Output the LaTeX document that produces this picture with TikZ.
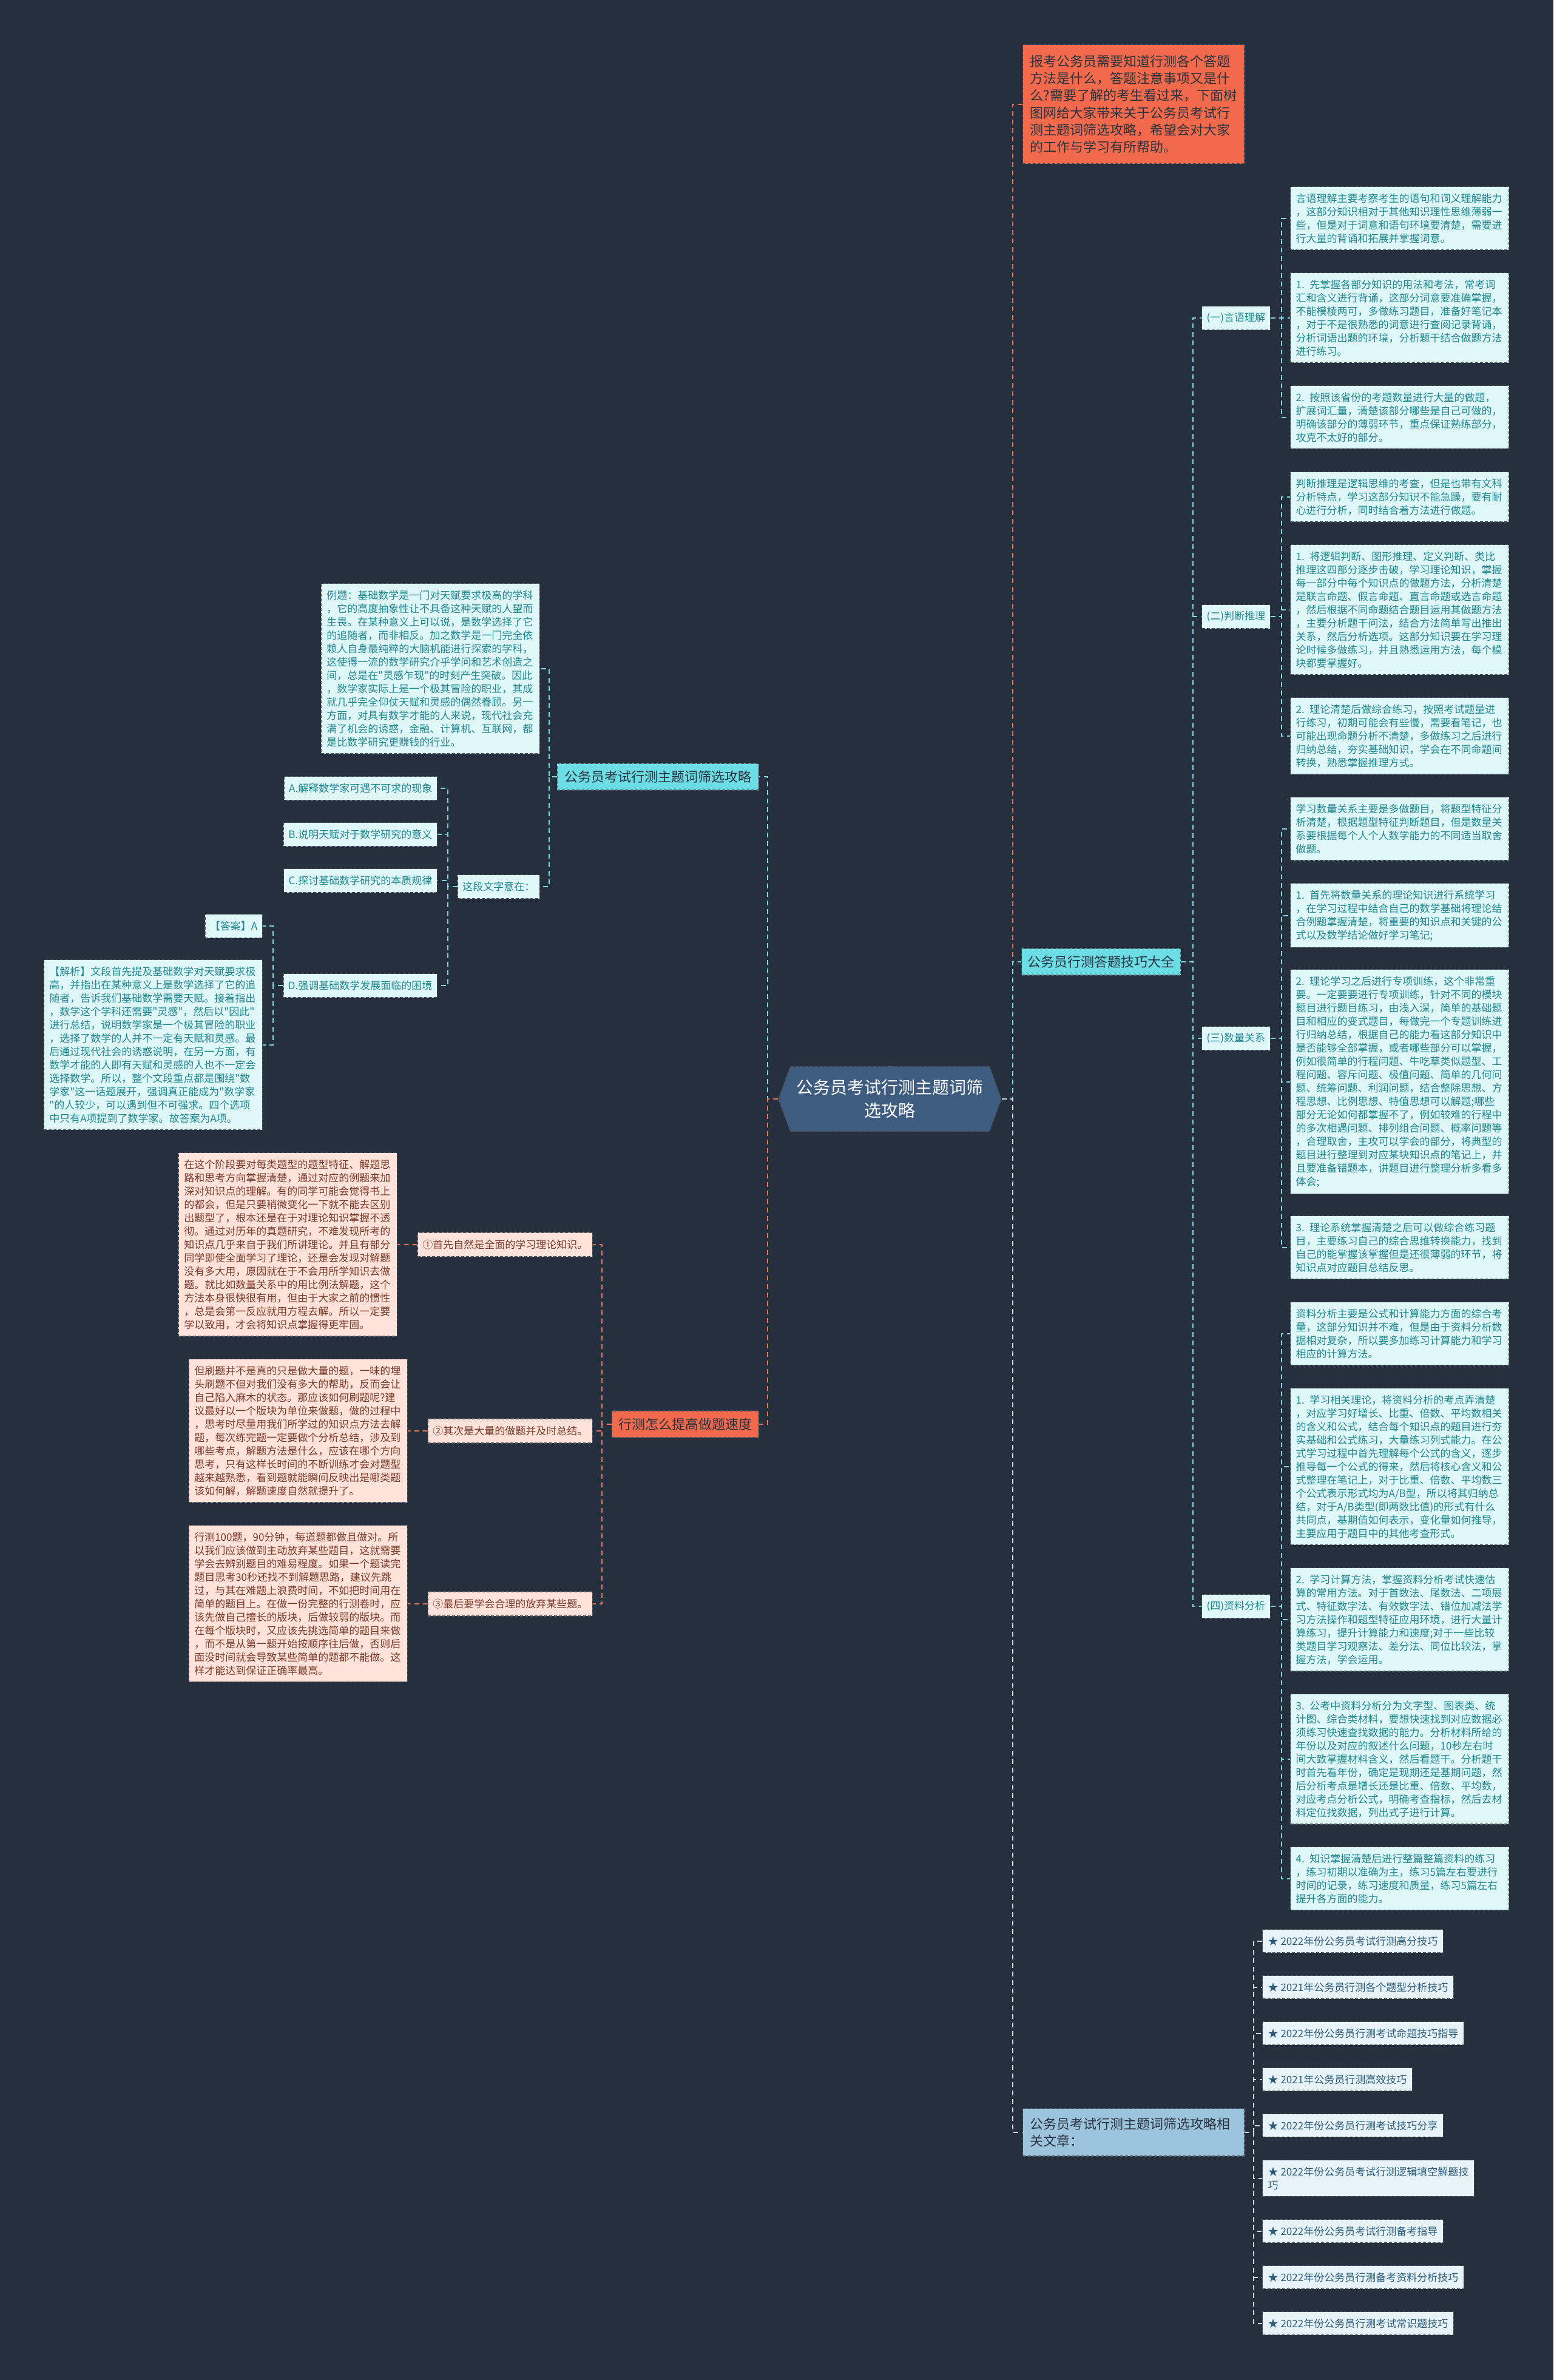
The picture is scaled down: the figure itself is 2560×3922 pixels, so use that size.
\documentclass[tikz,border=0pt]{standalone}
\usepackage{fontspec}
\setmainfont{Noto Sans CJK SC}
\newfontfamily\cjkplain{Noto Sans CJK SC}
\usetikzlibrary{shapes.symbols}
\definecolor{bgc}{HTML}{262F3D}
\definecolor{rootf}{HTML}{3E5B80}
\definecolor{orf}{HTML}{F26A4B}
\definecolor{cyf}{HTML}{6CDDE4}
\definecolor{relf}{HTML}{9DC4DD}
\definecolor{lcf}{HTML}{E0F7F8}
\definecolor{lct}{HTML}{1E8792}
\definecolor{pkf}{HTML}{FFE3DA}
\definecolor{pkt}{HTML}{7B3A29}
\definecolor{lif}{HTML}{E8F3F8}
\definecolor{lit}{HTML}{2B5C7C}
\definecolor{bord}{HTML}{4A5560}
\definecolor{midt}{HTML}{2A3440}
\definecolor{ecy}{HTML}{7ED6DE}
\definecolor{eor}{HTML}{E97355}
\definecolor{ewh}{HTML}{C9D9E5}
\newcommand\fsz[2]{\cjkplain\fontsize{#1}{#2}\selectfont}
\begin{document}
\begin{tikzpicture}[x=1pt,y=-1pt,
  every node/.style={inner sep=0pt},
  tbox/.style={draw=bord, dash pattern=on 5pt off 3pt, line width=1.4pt},
  bigc/.style={tbox, fill=lcf, text=lct, align=left, text width=342pt, inner xsep=9pt, inner ysep=11pt, font=\fsz{17}{22}},
  bigp/.style={tbox, fill=pkf, text=pkt, align=left, text width=342pt, inner xsep=9pt, inner ysep=11pt, font=\fsz{17}{22}},
  smc/.style={tbox, fill=lcf, text=lct, font=\fsz{17}{22}, inner xsep=8pt, minimum height=39pt},
  smp/.style={tbox, fill=pkf, text=pkt, font=\fsz{17}{22}, inner xsep=8pt, minimum height=40pt},
  midn/.style={tbox, font=\fsz{22}{28}, inner xsep=12pt, minimum height=44pt, text=midt},
  litem/.style={tbox, fill=lif, text=lit, font=\fsz{17}{22}, inner xsep=9pt, inner ysep=11pt, align=left},
  ecn/.style={draw=ecy, line width=2pt, dash pattern=on 8pt off 6pt},
  eon/.style={draw=eor, line width=2pt, dash pattern=on 8pt off 6pt},
  ewn/.style={draw=ewh, line width=2pt, dash pattern=on 8pt off 6pt}
]
\useasboundingbox (0,0) rectangle (2560,3922);
\fill[bgc] (0,0) rectangle (2560,3922);

% root
\node[shape=signal, signal to=east and west, signal pointer angle=140, minimum width=367pt, minimum height=107pt,
  fill=rootf, draw=bord, dash pattern=on 5pt off 3pt, line width=1.4pt, text=white, font=\fsz{28}{38}, align=center]
  (root) at (1466.5,1811) {公务员考试行测主题词筛\\选攻略};

% ---------- right side ----------
\node[tbox, fill=orf, text=midt, anchor=north west, align=left, text width=341pt, inner xsep=12pt, inner ysep=17pt, font=\fsz{22}{28.3}]
  (top) at (1685,73) {报考公务员需要知道行测各个答题\\方法是什么，答题注意事项又是什\\么?需要了解的考生看过来，下面树\\图网给大家带来关于公务员考试行\\测主题词筛选攻略，希望会对大家\\的工作与学习有所帮助。};

\node[midn, fill=cyf, anchor=west, inner xsep=10pt] (jq) at (1683,1585) {公务员行测答题技巧大全};

\node[smc, anchor=west] (s1) at (1980,524) {(一)言语理解};
\node[smc, anchor=west] (s2) at (1980,1016) {(二)判断推理};
\node[smc, anchor=west] (s3) at (1980,1711) {(三)数量关系};
\node[smc, anchor=west] (s4) at (1980,2647) {(四)资料分析};

\node[bigc, anchor=north west] (b11) at (2126,307) {言语理解主要考察考生的语句和词义理解能力\\，这部分知识相对于其他知识理性思维薄弱一\\些，但是对于词意和语句环境要清楚，需要进\\行大量的背诵和拓展并掌握词意。};
\node[bigc, anchor=north west] (b12) at (2126,449) {1. 先掌握各部分知识的用法和考法，常考词\\汇和含义进行背诵，这部分词意要准确掌握，\\不能模棱两可，多做练习题目，准备好笔记本\\，对于不是很熟悉的词意进行查阅记录背诵，\\分析词语出题的环境，分析题干结合做题方法\\进行练习。};
\node[bigc, anchor=north west] (b13) at (2126,635) {2. 按照该省份的考题数量进行大量的做题，\\扩展词汇量，清楚该部分哪些是自己可做的，\\明确该部分的薄弱环节，重点保证熟练部分，\\攻克不太好的部分。};

\node[bigc, anchor=north west] (b21) at (2126,777) {判断推理是逻辑思维的考查，但是也带有文科\\分析特点，学习这部分知识不能急躁，要有耐\\心进行分析，同时结合着方法进行做题。};
\node[bigc, anchor=north west] (b22) at (2126,897) {1. 将逻辑判断、图形推理、定义判断、类比\\推理这四部分逐步击破，学习理论知识，掌握\\每一部分中每个知识点的做题方法，分析清楚\\是联言命题、假言命题、直言命题或选言命题\\，然后根据不同命题结合题目运用其做题方法\\，主要分析题干问法，结合方法简单写出推出\\关系，然后分析选项。这部分知识要在学习理\\论时候多做练习，并且熟悉运用方法，每个模\\块都要掌握好。};
\node[bigc, anchor=north west] (b23) at (2126,1149) {2. 理论清楚后做综合练习，按照考试题量进\\行练习，初期可能会有些慢，需要看笔记，也\\可能出现命题分析不清楚，多做练习之后进行\\归纳总结，夯实基础知识，学会在不同命题间\\转换，熟悉掌握推理方式。};

\node[bigc, anchor=north west] (b31) at (2126,1313) {学习数量关系主要是多做题目，将题型特征分\\析清楚，根据题型特征判断题目，但是数量关\\系要根据每个人个人数学能力的不同适当取舍\\做题。};
\node[bigc, anchor=north west] (b32) at (2126,1455) {1. 首先将数量关系的理论知识进行系统学习\\，在学习过程中结合自己的数学基础将理论结\\合例题掌握清楚，将重要的知识点和关键的公\\式以及数学结论做好学习笔记;};
\node[bigc, anchor=north west] (b33) at (2126,1597) {2. 理论学习之后进行专项训练，这个非常重\\要。一定要要进行专项训练，针对不同的模块\\题目进行题目练习，由浅入深，简单的基础题\\目和相应的变式题目，每做完一个专题训练进\\行归纳总结，根据自己的能力看这部分知识中\\是否能够全部掌握，或者哪些部分可以掌握，\\例如很简单的行程问题、牛吃草类似题型、工\\程问题、容斥问题、极值问题、简单的几何问\\题、统筹问题、利润问题，结合整除思想、方\\程思想、比例思想、特值思想可以解题;哪些\\部分无论如何都掌握不了，例如较难的行程中\\的多次相遇问题、排列组合问题、概率问题等\\，合理取舍，主攻可以学会的部分，将典型的\\题目进行整理到对应某块知识点的笔记上，并\\且要准备错题本，讲题目进行整理分析多看多\\体会;};
\node[bigc, anchor=north west] (b34) at (2126,2003) {3. 理论系统掌握清楚之后可以做综合练习题\\目，主要练习自己的综合思维转换能力，找到\\自己的能掌握该掌握但是还很薄弱的环节，将\\知识点对应题目总结反思。};

\node[bigc, anchor=north west] (b41) at (2126,2145) {资料分析主要是公式和计算能力方面的综合考\\量，这部分知识并不难，但是由于资料分析数\\据相对复杂，所以要多加练习计算能力和学习\\相应的计算方法。};
\node[bigc, anchor=north west] (b42) at (2126,2287) {1. 学习相关理论，将资料分析的考点弄清楚\\，对应学习好增长、比重、倍数、平均数相关\\的含义和公式，结合每个知识点的题目进行夯\\实基础和公式练习，大量练习列式能力。在公\\式学习过程中首先理解每个公式的含义，逐步\\推导每一个公式的得来，然后将核心含义和公\\式整理在笔记上，对于比重、倍数、平均数三\\个公式表示形式均为A/B型，所以将其归纳总\\结，对于A/B类型(即两数比值)的形式有什么\\共同点，基期值如何表示，变化量如何推导，\\主要应用于题目中的其他考查形式。};
\node[bigc, anchor=north west] (b43) at (2126,2583) {2. 学习计算方法，掌握资料分析考试快速估\\算的常用方法。对于首数法、尾数法、二项展\\式、特征数字法、有效数字法、错位加减法学\\习方法操作和题型特征应用环境，进行大量计\\算练习，提升计算能力和速度;对于一些比较\\类题目学习观察法、差分法、同位比较法，掌\\握方法，学会运用。};
\node[bigc, anchor=north west] (b44) at (2126,2791) {3. 公考中资料分析分为文字型、图表类、统\\计图、综合类材料，要想快速找到对应数据必\\须练习快速查找数据的能力。分析材料所给的\\年份以及对应的叙述什么问题，10秒左右时\\间大致掌握材料含义，然后看题干。分析题干\\时首先看年份，确定是现期还是基期问题，然\\后分析考点是增长还是比重、倍数、平均数，\\对应考点分析公式，明确考查指标，然后去材\\料定位找数据，列出式子进行计算。};
\node[bigc, anchor=north west] (b45) at (2126,3043) {4. 知识掌握清楚后进行整篇整篇资料的练习\\，练习初期以准确为主，练习5篇左右要进行\\时间的记录，练习速度和质量，练习5篇左右\\提升各方面的能力。};

\node[tbox, fill=relf, text=midt, anchor=north west, align=left, text width=341pt, inner xsep=12pt, inner ysep=15pt, font=\fsz{22}{28}]
  (rel) at (1685,3474) {公务员考试行测主题词筛选攻略相\\关文章：};

\node[litem, anchor=north west] (l1) at (2080,3179) {★ 2022年份公务员考试行测高分技巧};
\node[litem, anchor=north west] (l2) at (2080,3255) {★ 2021年公务员行测各个题型分析技巧};
\node[litem, anchor=north west] (l3) at (2080,3331) {★ 2022年份公务员行测考试命题技巧指导};
\node[litem, anchor=north west] (l4) at (2080,3407) {★ 2021年公务员行测高效技巧};
\node[litem, anchor=north west] (l5) at (2080,3483) {★ 2022年份公务员行测考试技巧分享};
\node[litem, anchor=north west] (l6) at (2080,3559) {★ 2022年份公务员考试行测逻辑填空解题技\\巧};
\node[litem, anchor=north west] (l7) at (2080,3657) {★ 2022年份公务员考试行测备考指导};
\node[litem, anchor=north west] (l8) at (2080,3733) {★ 2022年份公务员行测备考资料分析技巧};
\node[litem, anchor=north west] (l9) at (2080,3809) {★ 2022年份公务员行测考试常识题技巧};

% ---------- left side ----------
\node[midn, fill=cyf, anchor=east] (cl) at (1251,1280) {公务员考试行测主题词筛选攻略};
\node[midn, fill=orf, anchor=east, inner xsep=11pt] (ol) at (1251,2347) {行测怎么提高做题速度};

\node[bigc, anchor=north east] (ex) at (890,961) {例题：基础数学是一门对天赋要求极高的学科\\，它的高度抽象性让不具备这种天赋的人望而\\生畏。在某种意义上可以说，是数学选择了它\\的追随者，而非相反。加之数学是一门完全依\\赖人自身最纯粹的大脑机能进行探索的学科，\\这使得一流的数学研究介乎学问和艺术创造之\\间，总是在"灵感乍现"的时刻产生突破。因此\\，数学家实际上是一个极其冒险的职业，其成\\就几乎完全仰仗天赋和灵感的偶然眷顾。另一\\方面，对具有数学才能的人来说，现代社会充\\满了机会的诱惑，金融、计算机、互联网，都\\是比数学研究更赚钱的行业。};
\node[smc, anchor=east] (zd) at (890,1461) {这段文字意在：};

\node[smc, anchor=east] (oa) at (721,1299) {A.解释数学家可遇不可求的现象};
\node[smc, anchor=east] (ob) at (721,1375) {B.说明天赋对于数学研究的意义};
\node[smc, anchor=east] (oc) at (721,1451) {C.探讨基础数学研究的本质规律};
\node[smc, anchor=east] (od) at (721,1624) {D.强调基础数学发展面临的困境};

\node[smc, anchor=east] (ans) at (433,1526) {【答案】A};
\node[bigc, anchor=north east] (jx) at (433,1581) {【解析】文段首先提及基础数学对天赋要求极\\高，并指出在某种意义上是数学选择了它的追\\随者，告诉我们基础数学需要天赋。接着指出\\，数学这个学科还需要"灵感"，然后以"因此"\\进行总结，说明数学家是一个极其冒险的职业\\，选择了数学的人并不一定有天赋和灵感。最\\后通过现代社会的诱惑说明，在另一方面，有\\数学才能的人即有天赋和灵感的人也不一定会\\选择数学。所以，整个文段重点都是围绕"数\\学家"这一话题展开，强调真正能成为"数学家\\"的人较少，可以遇到但不可强求。四个选项\\中只有A项提到了数学家。故答案为A项。};

\node[smp, anchor=east] (t1) at (977,2051) {①首先自然是全面的学习理论知识。};
\node[smp, anchor=east] (t2) at (977,2358) {②其次是大量的做题并及时总结。};
\node[smp, anchor=east] (t3) at (977,2643) {③最后要学会合理的放弃某些题。};

\node[bigp, anchor=north east] (p1) at (655,1899) {在这个阶段要对每类题型的题型特征、解题思\\路和思考方向掌握清楚，通过对应的例题来加\\深对知识点的理解。有的同学可能会觉得书上\\的都会，但是只要稍微变化一下就不能去区别\\出题型了，根本还是在于对理论知识掌握不透\\彻。通过对历年的真题研究，不难发现所考的\\知识点几乎来自于我们所讲理论。并且有部分\\同学即使全面学习了理论，还是会发现对解题\\没有多大用，原因就在于不会用所学知识去做\\题。就比如数量关系中的用比例法解题，这个\\方法本身很快很有用，但由于大家之前的惯性\\，总是会第一反应就用方程去解。所以一定要\\学以致用，才会将知识点掌握得更牢固。};
\node[bigp, anchor=north east] (p2) at (672,2239) {但刷题并不是真的只是做大量的题，一味的埋\\头刷题不但对我们没有多大的帮助，反而会让\\自己陷入麻木的状态。那应该如何刷题呢?建\\议最好以一个版块为单位来做题，做的过程中\\，思考时尽量用我们所学过的知识点方法去解\\题，每次练完题一定要做个分析总结，涉及到\\哪些考点，解题方法是什么，应该在哪个方向\\思考，只有这样长时间的不断训练才会对题型\\越来越熟悉，看到题就能瞬间反映出是哪类题\\该如何解，解题速度自然就提升了。};
\node[bigp, anchor=north east] (p3) at (672,2513) {行测100题，90分钟，每道题都做且做对。所\\以我们应该做到主动放弃某些题目，这就需要\\学会去辨别题目的难易程度。如果一个题读完\\题目思考30秒还找不到解题思路，建议先跳\\过，与其在难题上浪费时间，不如把时间用在\\简单的题目上。在做一份完整的行测卷时，应\\该先做自己擅长的版块，后做较弱的版块。而\\在每个版块时，又应该先挑选简单的题目来做\\，而不是从第一题开始按顺序往后做，否则后\\面没时间就会导致某些简单的题都不能做。这\\样才能达到保证正确率最高。};

% ---------- connectors ----------
\draw[eon] (root.east) -- ++(18,0) |- (top.west);
\draw[ecn] (root.east) -- ++(18,0) |- (jq.west);
\draw[ewn] (root.east) -- ++(18,0) |- (rel.west);

\foreach \s in {s1,s2,s3,s4} \draw[ecn] (jq.east) -- ++(20,0) |- (\s.west);
\foreach \b in {b11,b12,b13} \draw[ecn] (s1.east) -- ++(18,0) |- (\b.west);
\foreach \b in {b21,b22,b23} \draw[ecn] (s2.east) -- ++(18,0) |- (\b.west);
\foreach \b in {b31,b32,b33,b34} \draw[ecn] (s3.east) -- ++(18,0) |- (\b.west);
\foreach \b in {b41,b42,b43,b44,b45} \draw[ecn] (s4.east) -- ++(18,0) |- (\b.west);
\foreach \l in {l1,l2,l3,l4,l5,l6,l7,l8,l9} \draw[ewn] (rel.east) -- ++(15,0) |- (\l.west);

\draw[ecn] (root.west) -- ++(-17,0) |- (cl.east);
\draw[eon] (root.west) -- ++(-17,0) |- (ol.east);
\draw[ecn] (cl.west) -- ++(-13,0) |- (ex.east);
\draw[ecn] (cl.west) -- ++(-13,0) |- (zd.east);
\foreach \o in {oa,ob,oc,od} \draw[ecn] (zd.west) -- ++(-16,0) |- (\o.east);
\draw[ecn] (od.west) -- ++(-16,0) |- (ans.east);
\draw[ecn] (od.west) -- ++(-16,0) |- (jx.east);
\foreach \t in {t1,t2,t3} \draw[eon] (ol.west) -- ++(-16,0) |- (\t.east);
\draw[eon] (t1.west) -- (p1.east);
\draw[eon] (t2.west) -- (p2.east);
\draw[eon] (t3.west) -- (p3.east);
\end{tikzpicture}
\end{document}
